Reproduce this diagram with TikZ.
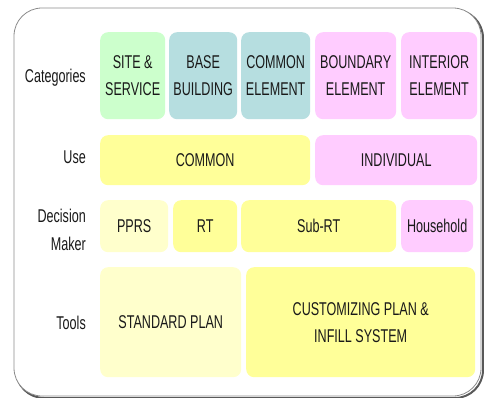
\documentclass[tikz,border=0pt]{standalone}
\usepackage{fontspec}
\setmainfont{Liberation Sans}[FakeStretch=0.68]
\usetikzlibrary{positioning}
\definecolor{sitegreen}{HTML}{CCFFCC}
\definecolor{basecyan}{HTML}{B6DEE0}
\definecolor{elempink}{HTML}{FFCCFF}
\definecolor{useyellow}{HTML}{FFFF99}
\definecolor{paleyellow}{HTML}{FFFFCC}
\tikzset{
  cell/.style={rounded corners=8pt, inner sep=0pt, anchor=north west, align=center,
    text=black!90, font=\fontsize{18.5}{27}\selectfont},
  rowlabel/.style={anchor=east, align=right, inner sep=0pt, text=black!90,
    font=\fontsize{18.5}{28}\selectfont},
}

\begin{document}
\begin{tikzpicture}[x=1pt,y=-1pt]
  \useasboundingbox (0,0) rectangle (484,398);
  % frame with a little shadow
  \draw[black!65, line width=2pt, rounded corners=28pt] (16,10) rectangle (483,398);
  \draw[black!45, fill=white, line width=0.8pt, rounded corners=28pt] (14,8) rectangle (481,396);

  % row labels
  \node[rowlabel] (categories) at (86,78) {Categories};
  \node[rowlabel] (use) at (86,157) {Use};
  \node[rowlabel] (decision) at (86,230) {Decision\\Maker};
  \node[rowlabel] (tools) at (86,323) {Tools};

  % categories
  \node[cell, fill=sitegreen, minimum width=65pt, minimum height=87pt] (site) at (100,32) {SITE \&\\SERVICE};
  \node[cell, fill=basecyan, minimum width=68pt, minimum height=87pt] (base) at (169,32) {BASE\\BUILDING};
  \node[cell, fill=basecyan, minimum width=69pt, minimum height=87pt] (common) at (241,32) {COMMON\\ELEMENT};
  \node[cell, fill=elempink, minimum width=81pt, minimum height=87pt] (boundary) at (315,32) {BOUNDARY\\ELEMENT};
  \node[cell, fill=elempink, minimum width=76pt, minimum height=87pt] (interior) at (401,32) {INTERIOR\\ELEMENT};

  % use
  \node[cell, fill=useyellow, minimum width=210pt, minimum height=50pt] (commonuse) at (100,135) {COMMON};
  \node[cell, fill=elempink, minimum width=162pt, minimum height=50pt] (individual) at (315,135) {INDIVIDUAL};

  % decision maker
  \node[cell, fill=paleyellow, minimum width=68pt, minimum height=52pt] (pprs) at (100,200) {PPRS};
  \node[cell, fill=useyellow, minimum width=64pt, minimum height=52pt] (rt) at (173,200) {RT};
  \node[cell, fill=useyellow, minimum width=155pt, minimum height=52pt] (subrt) at (241,200) {Sub-RT};
  \node[cell, fill=elempink, minimum width=72pt, minimum height=52pt] (household) at (401,200) {Household};

  % tools
  \node[cell, fill=paleyellow, minimum width=141pt, minimum height=110pt] (standard) at (100,267) {STANDARD PLAN};
  \node[cell, fill=useyellow, minimum width=229pt, minimum height=110pt] (customizing) at (246,267) {CUSTOMIZING PLAN \&\\INFILL SYSTEM};
\end{tikzpicture}
\end{document}
